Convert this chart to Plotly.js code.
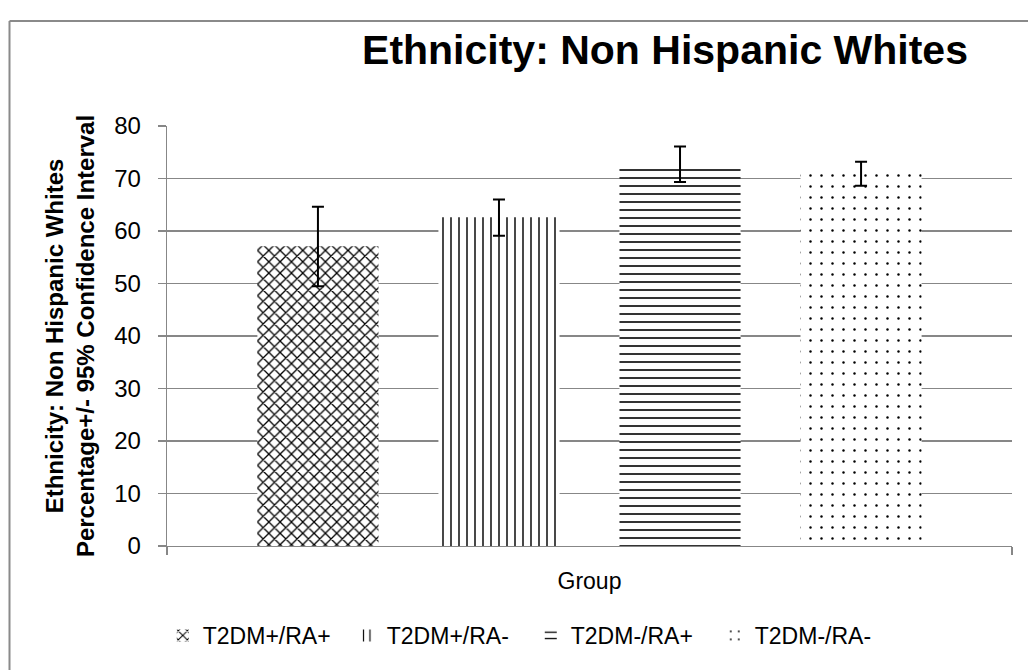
<!DOCTYPE html>
<html>
<head>
<meta charset="utf-8">
<script src="https://cdn.plot.ly/plotly-3.0.1.min.js"></script>
<style>
  html, body { margin: 0; padding: 0; background: #ffffff; }
  #chart { width: 1028px; height: 670px; }
</style>
</head>
<body>
<div id="chart"></div>
<script>
// ---- data ----
const categories = ['Group'];
const seriesNames = ['T2DM+/RA+', 'T2DM+/RA-', 'T2DM-/RA+', 'T2DM-/RA-'];
const percentages = [57.1, 62.6, 72.7, 70.9];
const ciUpper = [7.5, 3.4, 3.4, 2.3];
const ciLower = [7.6, 3.5, 3.35, 2.3];
const yTickValues = [0, 10, 20, 30, 40, 50, 60, 70, 80];
const chartTitle = 'Ethnicity: Non Hispanic Whites';
const yTitle = 'Ethnicity: Non Hispanic Whites<br>Percentage+/- 95% Confidence Interval';

// ---- styles ----
const FONT = 'Liberation Sans, Arial, sans-serif';
const patternStyles = [
  {shape: 'x', size: 8, solidity: 0.3},
  {shape: '|', size: 8, solidity: 0.18},
  {shape: '-', size: 8, solidity: 0.2},
  {shape: '.', size: 11, solidity: 0.04}
];

const traces = seriesNames.map((name, i) => ({
  type: 'bar',
  name: name,
  x: categories,
  y: [percentages[i]],
  marker: {
    color: '#ffffff',
    line: {width: 0},
    pattern: Object.assign({fgcolor: '#000000', bgcolor: '#ffffff', fillmode: 'replace'}, patternStyles[i])
  },
  error_y: {
    type: 'data',
    symmetric: false,
    array: [ciUpper[i]],
    arrayminus: [ciLower[i]],
    color: '#000000',
    thickness: 2,
    width: 6
  },
  hoverinfo: 'skip'
}));

const gray = '#878787';

const layout = {
  width: 1028,
  height: 670,
  margin: {l: 167, r: 16, t: 126, b: 124, pad: 0},
  paper_bgcolor: '#ffffff',
  plot_bgcolor: '#ffffff',
  font: {family: FONT, color: '#000000', size: 24},
  barmode: 'group',
  bargap: 0.143,
  bargroupgap: 0.331,
  title: {
    text: '<b>' + chartTitle + '</b>',
    font: {family: FONT, size: 41, color: '#000000'},
    xref: 'container', yref: 'container',
    x: 665 / 1028, xanchor: 'center',
    y: 1 - 50 / 670, yanchor: 'middle'
  },
  xaxis: {
    type: 'category',
    showgrid: false,
    showline: true,
    linecolor: gray,
    linewidth: 1.3,
    ticks: 'outside',
    tickson: 'boundaries',
    ticklen: 8,
    tickcolor: gray,
    tickwidth: 1.3,
    tickfont: {family: FONT, size: 23, color: '#000000'},
    ticklabelstandoff: 14,
    automargin: false
  },
  yaxis: {
    range: [0, 80],
    tickvals: yTickValues,
    showgrid: true,
    gridcolor: gray,
    gridwidth: 1.3,
    zeroline: false,
    showline: true,
    linecolor: gray,
    linewidth: 1.3,
    ticks: 'outside',
    ticklen: 8,
    tickcolor: gray,
    tickwidth: 1.3,
    tickfont: {family: FONT, size: 24, color: '#000000'},
    ticklabelstandoff: 12,
    automargin: false,
    title: {
      text: '<b>' + yTitle + '</b>',
      font: {family: FONT, size: 24, color: '#000000'},
      standoff: 12
    }
  },
  showlegend: true,
  legend: {
    orientation: 'h',
    x: -0.005, xanchor: 'left',
    y: -0.213, yanchor: 'middle',
    font: {family: FONT, size: 23, color: '#000000'},
    bgcolor: 'rgba(0,0,0,0)',
    entrywidth: 139,
    entrywidthmode: 'pixels',
    traceorder: 'normal'
  },
  shapes: [
    {type: 'line', xref: 'paper', yref: 'paper',
     x0: (9.5 - 167) / 845, x1: (9.5 - 167) / 845, y0: (546.3 - 21) / 420.3, y1: (546.3 - 700) / 420.3,
     line: {color: '#8a8a8a', width: 2}},
    {type: 'line', xref: 'paper', yref: 'paper',
     x0: (9.5 - 167) / 845, x1: (1040 - 167) / 845, y0: (546.3 - 21) / 420.3, y1: (546.3 - 21) / 420.3,
     line: {color: '#8a8a8a', width: 2}}
  ]
};

Plotly.newPlot('chart', traces, layout, {displayModeBar: false, staticPlot: true});
</script>
</body>
</html>
